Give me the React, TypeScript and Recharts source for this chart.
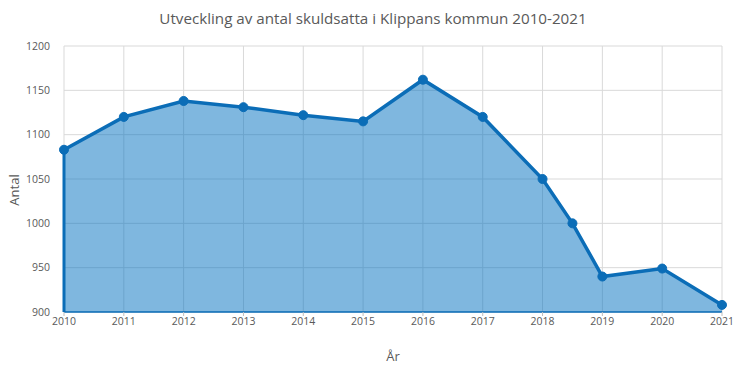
import { AreaChart, Area, XAxis, YAxis, CartesianGrid, ReferenceLine, Label } from "recharts";

const years = [2010, 2011, 2012, 2013, 2014, 2015, 2016, 2017, 2018, 2018.5, 2019, 2020, 2021];
const antal = [1083, 1120, 1138, 1131, 1122, 1115, 1162, 1120, 1050, 1000, 940, 949, 908];
const xTicks = [2010, 2011, 2012, 2013, 2014, 2015, 2016, 2017, 2018, 2019, 2020, 2021];
const yTicks = [900, 950, 1000, 1050, 1100, 1150, 1200];

const data = years.map((year, i) => ({ year, antal: antal[i] }));

const font = "'Open Sans', 'Noto Sans', sans-serif";
const textColor = "#595959";
const blue = "#0b6db7";

export default function App() {
  return (
    <div style={{ position: "absolute", left: 0, top: 0, width: 746, height: 373, background: "#fff", fontFamily: font }}>
      <div style={{ position: "absolute", top: 8, width: 746, textAlign: "center", fontSize: 15.2, color: textColor }}>
        Utveckling av antal skuldsatta i Klippans kommun 2010-2021
      </div>
      <AreaChart width={746} height={373} data={data} margin={{ top: 46, right: 24, left: 0, bottom: 0 }}>
        <CartesianGrid stroke="#d9d9d9" strokeWidth={1} />
        <XAxis
          dataKey="year"
          type="number"
          domain={[2010, 2021]}
          ticks={xTicks}
          interval={0}
          height={61}
          tickSize={4}
          tickLine={{ stroke: "#bfbfbf" }}
          axisLine={{ stroke: blue, strokeWidth: 1.5 }}
          tick={{ fontSize: 10.5, fill: textColor, fontFamily: font }}
        >
          <Label value="År" position="insideBottom" offset={12} style={{ fontSize: 13, fill: textColor, fontFamily: font }} />
        </XAxis>
        <YAxis
          type="number"
          domain={[900, 1200]}
          ticks={yTicks}
          width={64}
          tickLine={false}
          axisLine={false}
          tickMargin={8}
          tick={{ fontSize: 10.5, fill: textColor, fontFamily: font }}
        >
          <Label
            content={() => (
              <text x={19} y={190} transform="rotate(-90 19 190)" textAnchor="middle" fontSize={13} fill={textColor} fontFamily={font}>
                Antal
              </text>
            )}
          />
        </YAxis>
        <Area
          type="linear"
          dataKey="antal"
          stroke={blue}
          strokeWidth={3.5}
          fill="#0070c0"
          fillOpacity={0.5}
          dot={{ r: 4.5, fill: blue, fillOpacity: 1, stroke: blue, strokeWidth: 1 }}
          activeDot={false}
          isAnimationActive={false}
        />
        <ReferenceLine
          segment={[
            { x: years[0], y: 900 },
            { x: years[0], y: antal[0] },
          ]}
          stroke={blue}
          strokeWidth={3}
        />
      </AreaChart>
    </div>
  );
}
